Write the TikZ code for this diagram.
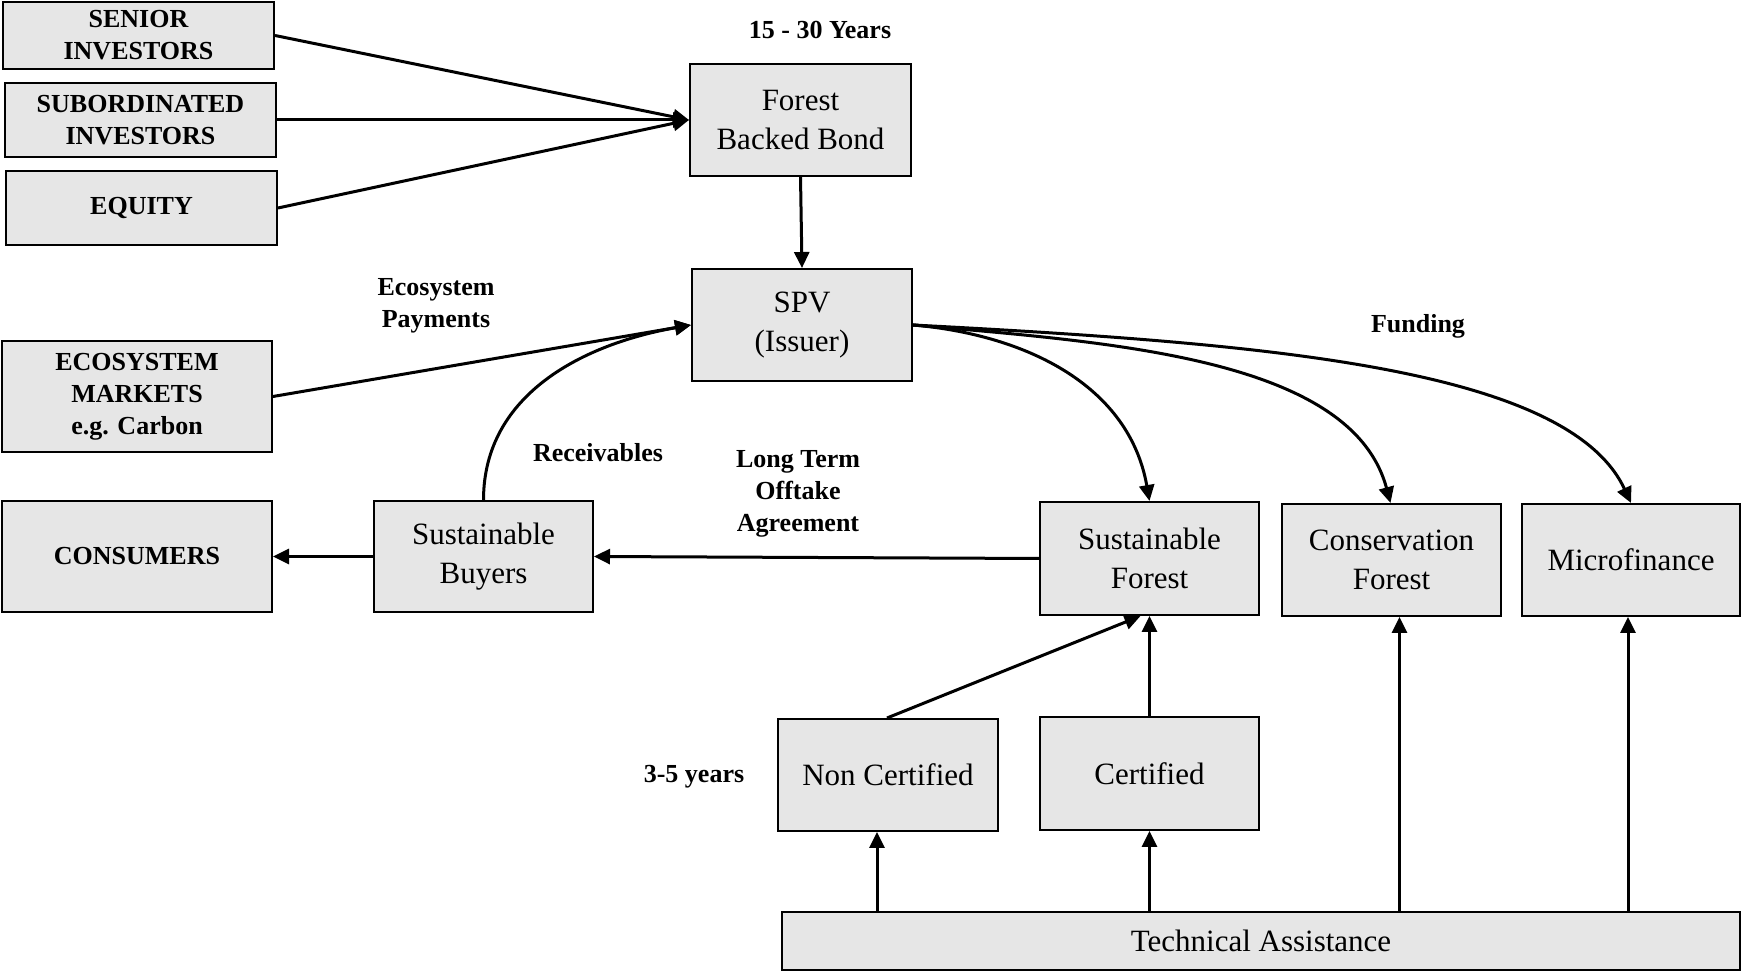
\documentclass[tikz,border=0pt]{standalone}
\usepackage{fontspec}
\setmainfont{Liberation Serif}
\usetikzlibrary{arrows.meta}
\definecolor{boxfill}{RGB}{230,230,230}
\tikzset{
  box/.style={draw=black, line width=2pt, fill=boxfill, inner sep=0pt, align=center,
    font=\fontsize{31}{39}\selectfont},
  bbox/.style={box, font=\fontsize{26}{32}\selectfont\bfseries},
  lbl/.style={align=center, inner sep=0pt, font=\fontsize{26}{32}\selectfont\bfseries},
  arr/.style={line width=3pt, -{Triangle[length=16pt,width=15pt]}},
}
\begin{document}
\begin{tikzpicture}[x=1pt,y=1pt]
\useasboundingbox (0,0) rectangle (1742,971);
% nodes
\node[bbox, minimum width=271pt, minimum height=67pt] (senior) at (138.5,935.5) {SENIOR\\INVESTORS};
\node[bbox, minimum width=271pt, minimum height=74pt] (sub) at (140.5,851) {SUBORDINATED\\INVESTORS};
\node[bbox, minimum width=271pt, minimum height=74pt] (equity) at (141.5,763) {EQUITY};
\node[box, minimum width=221pt, minimum height=112pt] (fbb) at (800.5,851) {Forest\\Backed Bond};
\node[box, minimum width=220pt, minimum height=112pt] (spv) at (802,646) {SPV\\(Issuer)};
\node[bbox, minimum width=270pt, minimum height=111pt] (eco) at (137,574.5) {ECOSYSTEM\\MARKETS\\e.g. Carbon};
\node[bbox, minimum width=270pt, minimum height=111pt] (cons) at (137,414.5) {CONSUMERS};
\node[box, minimum width=219pt, minimum height=111pt] (buyers) at (483.5,414.5) {Sustainable\\Buyers};
\node[box, minimum width=219pt, minimum height=113pt] (sf) at (1149.5,412.5) {Sustainable\\Forest};
\node[box, minimum width=219pt, minimum height=112pt] (cf) at (1391.5,411) {Conservation\\Forest};
\node[box, minimum width=218pt, minimum height=112pt] (micro) at (1631,411) {Microfinance};
\node[box, minimum width=220pt, minimum height=112pt] (nc) at (888,196) {Non Certified};
\node[box, minimum width=219pt, minimum height=113pt] (cert) at (1149.5,197.5) {Certified};
\node[box, minimum width=958pt, minimum height=58pt] (ta) at (1261,30) {Technical Assistance};
% labels
\node[lbl] (years) at (820,941) {15 - 30 Years};
\node[lbl] (ecopay) at (436,665) {Ecosystem\\Payments};
\node[lbl] (recv) at (598,518) {Receivables};
\node[lbl] (lto) at (798,477) {Long Term\\Offtake\\Agreement};
\node[lbl] (fund) at (1418,645) {Funding};
\node[lbl] (yrs35) at (694,194) {3-5 years};
% helper coordinates
\path ([xshift=-11pt]nc.south) coordinate (ncb);
\path ([xshift=8pt]cf.south) coordinate (cfb);
\path ([xshift=-3pt]micro.south) coordinate (mib);
\path ([xshift=-9pt]sf.south) coordinate (sfb);
% connectors
\draw[arr] (senior.east) -- (fbb.west);
\draw[arr] (sub.east) -- (fbb.west);
\draw[arr] (equity.east) -- (fbb.west);
\draw[arr] (fbb.south) -- (spv.north);
\draw[arr] (eco.east) -- (spv.west);
\draw[arr] (buyers.north) to[out=90, in=190, out distance=107pt, in distance=107pt] (spv.west);
\draw[arr] (spv.east) to[out=-5, in=100, out distance=116pt, in distance=116pt] (sf.north);
\draw[arr] (spv.east) to[out=-5, in=105, out distance=200pt, in distance=150pt] ([xshift=-1pt]cf.north);
\draw[arr] (spv.east) to[out=-3, in=115, out distance=350pt, in distance=150pt] (micro.north);
\draw[arr] (sf.west) -- (buyers.east);
\draw[arr] (buyers.west) -- (cons.east);
\draw[arr] (ncb |- ta.north) -- (ncb);
\draw[arr] (ta.north -| cert.south) -- (cert.south);
\draw[arr] (cfb |- ta.north) -- (cfb);
\draw[arr] (mib |- ta.north) -- (mib);
\draw[arr] ([xshift=-1pt]nc.north) -- (sfb);
\draw[arr] (cert.north) -- (sf.south);
\end{tikzpicture}
\end{document}
